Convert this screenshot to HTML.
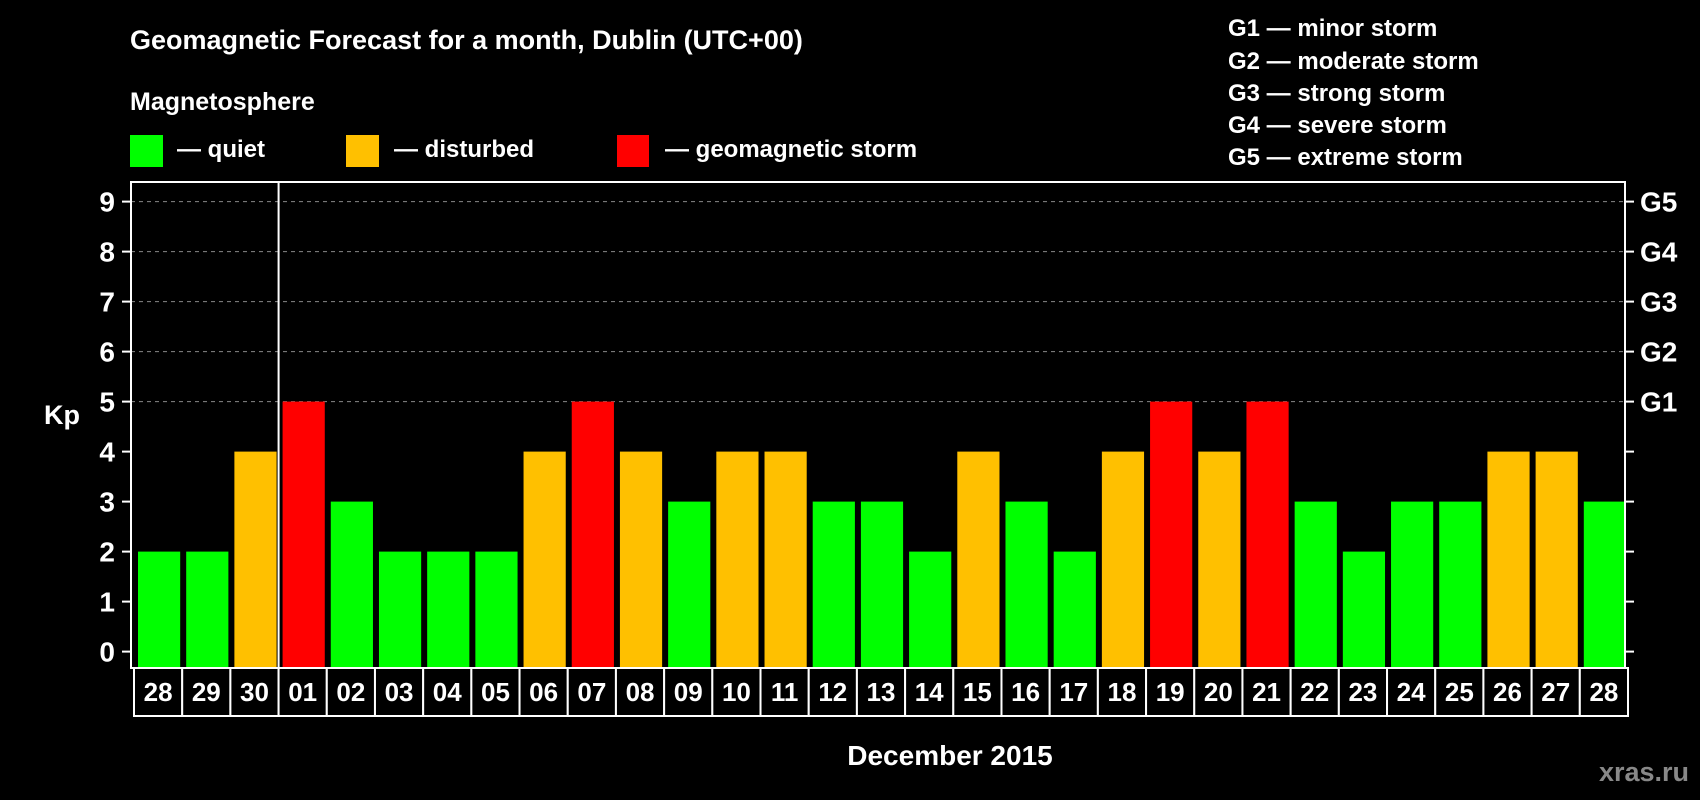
<!DOCTYPE html>
<html><head><meta charset="utf-8"><style>
html,body{margin:0;padding:0;background:#000;}
svg{display:block;font-family:"Liberation Sans",Arial,sans-serif;font-weight:bold;}
</style></head><body>
<svg id="chart" width="1700" height="800" viewBox="0 0 1700 800">
<rect x="0" y="0" width="1700" height="800" fill="#000"/>
<text x="130" y="49" fill="#fff" font-size="27">Geomagnetic Forecast for a month, Dublin (UTC+00)</text>
<text x="130" y="110" fill="#fff" font-size="25">Magnetosphere</text>
<g>
<rect x="130" y="135" width="33" height="32" fill="#00ff00"/>
<text x="177" y="157" fill="#fff" font-size="24">— quiet</text></g>
<g>
<rect x="346" y="135" width="33" height="32" fill="#ffc000"/>
<text x="394" y="157" fill="#fff" font-size="24">— disturbed</text></g>
<g>
<rect x="617" y="135" width="32" height="32" fill="#ff0000"/>
<text x="665" y="157" fill="#fff" font-size="24">— geomagnetic storm</text></g>
<g fill="#fff" font-size="24">
<text x="1228" y="36">G1 — minor storm</text>
<text x="1228" y="69">G2 — moderate storm</text>
<text x="1228" y="101">G3 — strong storm</text>
<text x="1228" y="133">G4 — severe storm</text>
<text x="1228" y="165">G5 — extreme storm</text>
</g>
<text x="62" y="424" fill="#fff" font-size="27" text-anchor="middle">Kp</text>
<text x="950" y="765" fill="#fff" font-size="28" text-anchor="middle">December 2015</text>
<text x="1689" y="781" fill="#888" font-size="27" text-anchor="end">xras.ru</text>
<g id="grid"></g><g id="bars"></g><g id="axes"></g>
</svg>
<script>
const days = ["28","29","30","01","02","03","04","05","06","07","08","09","10","11","12","13","14","15","16","17","18","19","20","21","22","23","24","25","26","27","28"];
const kpValues = [2,2,4,5,3,2,2,2,4,5,4,3,4,4,3,3,2,4,3,2,4,5,4,5,3,2,3,3,4,4,3];
const yTicks = [0,1,2,3,4,5,6,7,8,9];
const gLabels = ["G1","G2","G3","G4","G5"];
const gLevels = [5,6,7,8,9];
const monthStartIndex = 3;

const NS = "http://www.w3.org/2000/svg";
const L = 131, R = 1625, T = 182, B = 668;
const y0 = 651.6, unit = 50;
const slot = (R - L) / days.length;
function yScale(v){ return y0 - v * unit; }
function xScale(i){ return L + 3 + i * slot; }
function mk(tag, attrs, parent){ const e = document.createElementNS(NS, tag); for (const k in attrs) e.setAttribute(k, attrs[k]); parent.appendChild(e); return e; }
function color(v){ return v >= 5 ? "#ff0000" : (v >= 4 ? "#ffc000" : "#00ff00"); }

const grid = document.getElementById("grid"), bars = document.getElementById("bars"), axes = document.getElementById("axes");
gLevels.forEach((lv, i) => {
  const ln = mk("line", {x1: L, x2: R, y1: yScale(lv), y2: yScale(lv), stroke: "#888", "stroke-width": 1, "stroke-dasharray": "4,4"}, grid);
  
  
  const t = mk("text", {x: 1640, y: yScale(lv) + 10, fill: "#fff", "font-size": 28}, axes);
  t.textContent = gLabels[i];
  
  
});
kpValues.forEach((v, i) => {
  const r = mk("rect", {x: xScale(i) + 4, y: yScale(v), width: slot - 6, height: B - yScale(v), fill: color(v)}, bars);
  
  
  const bx = mk("rect", {x: xScale(i), y: B, width: slot, height: 48, fill: "#000", stroke: "#fff", "stroke-width": 2}, axes);
  
  
  const t = mk("text", {x: xScale(i) + slot / 2, y: B + 33, fill: "#fff", "font-size": 26, "text-anchor": "middle"}, axes);
  t.textContent = days[i];
  
  
});
const frame = mk("rect", {x: L, y: T, width: R - L, height: B - T, fill: "none", stroke: "#fff", "stroke-width": 2}, axes);


const sep = mk("line", {x1: xScale(monthStartIndex), x2: xScale(monthStartIndex), y1: T, y2: B, stroke: "#fff", "stroke-width": 2}, axes);


yTicks.forEach(v => {
  const tl = mk("line", {x1: L - 9, x2: L, y1: yScale(v), y2: yScale(v), stroke: "#fff", "stroke-width": 2}, axes);
  
  
  const tr = mk("line", {x1: R, x2: R + 9, y1: yScale(v), y2: yScale(v), stroke: "#fff", "stroke-width": 2}, axes);
  
  
  const t = mk("text", {x: 115, y: yScale(v) + 10, fill: "#fff", "font-size": 28, "text-anchor": "end"}, axes);
  t.textContent = v;
  
  
});
</script>
</body></html>
